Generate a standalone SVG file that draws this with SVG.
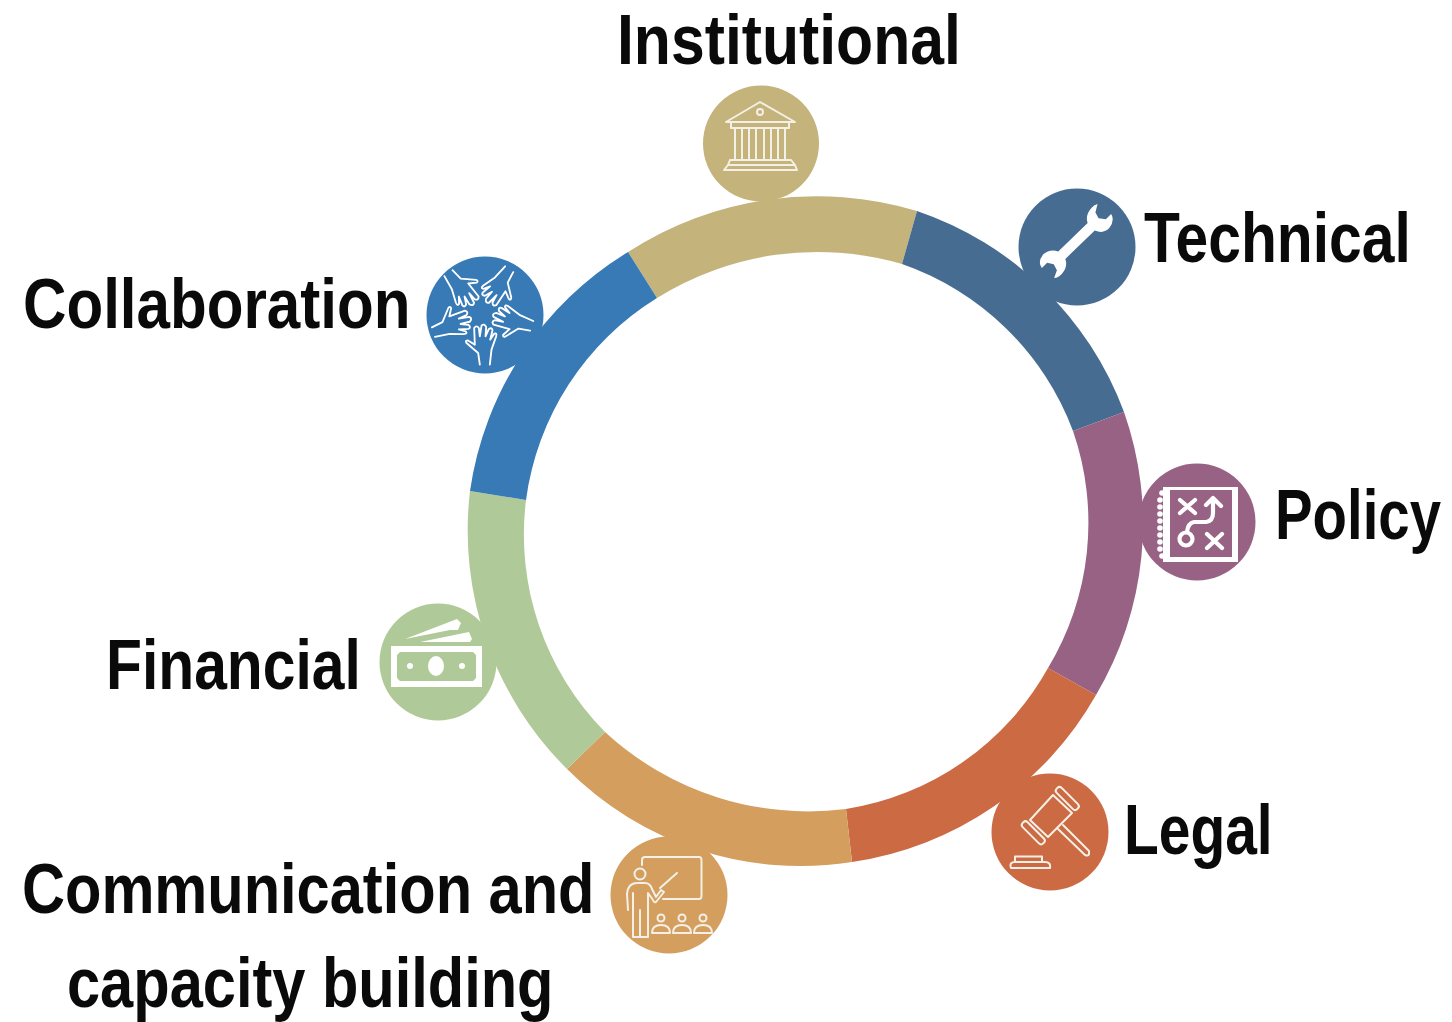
<svg xmlns="http://www.w3.org/2000/svg" width="1452" height="1022" viewBox="0 0 1452 1022">
<style>
text{font-family:"Liberation Sans",Arial,sans-serif;font-weight:700;font-size:70px;fill:#0a0a0a}
.i{fill:none;stroke:#f4f0e6;stroke-width:2;stroke-linejoin:round;stroke-linecap:round}
.p{fill:none;stroke:#fff;stroke-width:4.200;stroke-linejoin:round;stroke-linecap:round}
.h{fill:none;stroke:#fff;stroke-width:5.500;stroke-linejoin:round;stroke-linecap:round}
.w{fill:#fff}
</style>
<defs>
<path id="hand" class="h" d="M-5,155L-10,120L-45,90Q-50,83 -42,82L-20,95L-22,45Q-15,35 -8,45L-5,70L0,38Q8,30 14,42L12,70L22,48Q32,42 33,52L26,80L38,62Q47,58 44,70L30,110L25,155"/>
</defs>
<rect width="1452" height="1022" fill="#fff"/>
<g id="connectors">
<path fill="#c4b37b" d="M628,252A347,347 0 0 1 917,211L902,264A303,303 0 0 0 657,298Z"/>
<path fill="#476c92" d="M917,211A336,336 0 0 1 1124,412L1073,431A281,281 0 0 0 902,264Z"/>
<path fill="#976283" d="M1124,412A336,336 0 0 1 1096,695L1048,668A281,281 0 0 0 1073,431Z"/>
<path fill="#cc6a43" d="M1096,695A336,336 0 0 1 852,862L846,809A281,281 0 0 0 1048,668Z"/>
<path fill="#d49e5f" d="M852,862A330,330 0 0 1 567,769L605,732A300,300 0 0 0 846,809Z"/>
<path fill="#b0c998" d="M567,769A336,336 0 0 1 470,491L526,500A281,281 0 0 0 605,732Z"/>
<path fill="#377ab6" d="M470,491A336,336 0 0 1 628,252L657,298A281,281 0 0 0 526,500Z"/>
</g>
<g id="institutional">
<circle cx="761" cy="143.500" r="58" fill="#c4b37b"/>
<g class="i">
<path d="M760,102L726,122L795,122Z"/><circle cx="760" cy="112" r="3"/>
<path d="M731,123V128H789V123M733,160H787M735,128V160M742,128V160M749,128V160M756,128V160M764,128V160M771,128V160M778,128V160M785,128V160"/>
<path d="M730,160H791L795,165H728ZM724,170L728,165H795L797,170Z"/>
</g>
<text transform="translate(617 64) scale(.867 1)">Institutional</text>
</g>
<g id="technical">
<circle cx="1077" cy="247" r="58.500" fill="#476c92"/>
<g transform="translate(1076.500,241) rotate(-44) scale(.93)">
<path class="w" d="M-22,-5.500L22,-5.500Q26,-14 37,-14.500Q41,-15 44,-13L36,-8L34,-1L39,5L47,5Q45,13 35,14.500Q26,15 22,5.500L-22,5.500Q-26,14 -36,14.500Q-41,15 -45,12L-37,8L-35,1L-39,-5L-47,-5Q-46,-13 -36,-14.500Q-26,-14 -22,-5.500Z"/>
</g>
<text transform="translate(1144 262) scale(.84 1)">Technical</text>
</g>
<g id="policy">
<circle cx="1197" cy="522" r="58.500" fill="#976283"/>
<path class="w" fill-rule="evenodd" d="M1163,487H1238V562H1163ZM1170,490V557H1232V490Z"/>
<g class="w"><circle cx="1162" cy="493" r="2.800"/><circle cx="1160" cy="500" r="2.800"/><circle cx="1160" cy="507" r="2.800"/><circle cx="1160" cy="514" r="2.800"/><circle cx="1160" cy="521" r="2.800"/><circle cx="1160" cy="528" r="2.800"/><circle cx="1160" cy="535" r="2.800"/><circle cx="1160" cy="542" r="2.800"/><circle cx="1160" cy="549" r="2.800"/><circle cx="1162" cy="556" r="2.800"/></g>
<g class="p">
<path d="M1180,500L1195,513M1195,500L1180,513M1207,534L1222,548M1222,534L1207,548"/>
<path d="M1213,499V513Q1213,521 1206,522H1194Q1188,523 1187,532M1206,505L1213,498L1221,506"/>
<circle cx="1186" cy="539" r="6.500"/>
</g>
<text transform="translate(1275 539) scale(.805 1)">Policy</text>
</g>
<g id="legal">
<circle cx="1050" cy="832" r="58.500" fill="#cc6a43"/>
<g class="i">
<path d="M1053,795L1072,813L1048,837L1030,820Z"/>
<rect x="1052.800" y="795" width="29" height="7" rx="3" transform="rotate(45 1067.300 798.500)"/>
<rect x="1018.800" y="829.300" width="29" height="7" rx="3" transform="rotate(45 1033.300 832.800)"/>
<path d="M1058,829L1085,855Q1090,857 1089,851L1063,825"/>
<path d="M1015,862V856.500H1042V862M1011,868Q1009,862 1015,862H1045Q1051,862 1050,868Z"/>
</g>
<text transform="translate(1124 854) scale(.813 1)">Legal</text>
</g>
<g id="communication">
<circle cx="669" cy="895" r="58.500" fill="#d49e5f"/>
<g class="i">
<path d="M642,865V860Q642,857 645,857H699Q701.500,857 701.500,860V896Q701.500,899 699,899H663"/>
<path d="M660,888L677,873"/>
<circle cx="640" cy="874" r="5.500"/>
<path d="M628,910L627,894Q628,883 637,883H645Q650,883 652,889L656,897L661,890L664,892L656,902Q654,903 653,900L648,893V937H633V893M640,910V937"/>
<path d="M652,933Q652,925 661,925Q670,925 670,933ZM673,933Q673,925 682,925Q691,925 691,933ZM694,933Q694,925 703,925Q712,925 712,933Z"/>
<circle cx="661" cy="918" r="3.500"/><circle cx="682" cy="918" r="3.500"/><circle cx="703" cy="918" r="3.500"/>
</g>
<text transform="translate(22 913) scale(.851 1)">Communication and</text>
<text transform="translate(67 1007) scale(.851 1)">capacity building</text>
</g>
<g id="financial">
<circle cx="438" cy="662" r="58.500" fill="#b0c998"/>
<path class="w" fill-rule="evenodd" d="M391,646H482V687H391ZM400,652L397,655V678L400,681H473L476,678V655L473,652Z"/>
<ellipse cx="436" cy="666" rx="8" ry="10" class="w"/>
<circle cx="410" cy="666" r="3" class="w"/><circle cx="462" cy="666" r="3" class="w"/>
<path class="w" d="M405,639L457,619L461,623L458,630L450,630ZM420,642L469,632L472,639L470,642Z"/>
<text transform="translate(106 689) scale(.84 1)">Financial</text>
</g>
<g id="collaboration">
<circle cx="485" cy="315" r="58.500" fill="#377ab6"/>
<g transform="translate(481.500,313) scale(.3333)">
<use href="#hand"/><use href="#hand" transform="rotate(72)"/><use href="#hand" transform="rotate(144)"/><use href="#hand" transform="rotate(216)"/><use href="#hand" transform="rotate(288)"/>
</g>
<text transform="translate(23 328) scale(.859 1)">Collaboration</text>
</g>
</svg>
